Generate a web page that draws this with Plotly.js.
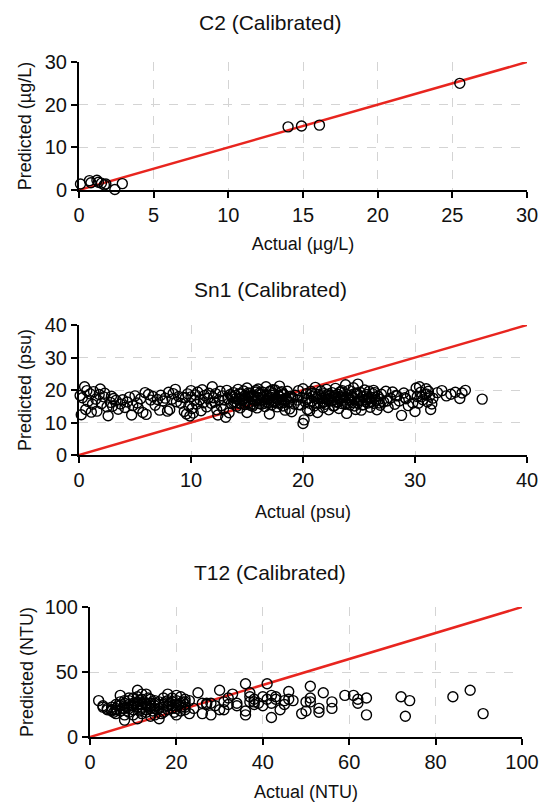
<!DOCTYPE html>
<html>
<head>
<meta charset="utf-8">
<script src="https://cdn.plot.ly/plotly-3.0.1.min.js"></script>
<style>html,body{margin:0;padding:0;background:#fff;}#chart{width:539px;height:806px;}</style>
</head>
<body>
<div id="chart"></div>
<script>
// ---------- data ----------
const c2Titles = ["C2 (Calibrated)", "Actual (µg/L)", "Predicted (µg/L)"];
const sn1Titles = ["Sn1 (Calibrated)", "Actual (psu)", "Predicted (psu)"];
const t12Titles = ["T12 (Calibrated)", "Actual (NTU)", "Predicted (NTU)"];

const c2Actual = [0.1,0.2,0.7,0.8,1.2,1.3,1.5,1.7,1.8,2.4,2.9,14.0,14.9,16.1,25.5];
const c2Predicted = [1.4,-0.1,2.2,1.7,2.3,1.8,1.6,1.2,1.4,0.1,1.5,14.8,15.0,15.2,25.0];
const c2Line = [0, 30];

const sn1Actual = [
 0.1,0.2,0.3,0.5,0.6,0.7,0.8,1.0,1.1,1.2,
 1.3,1.5,1.6,1.8,1.9,2.0,2.2,2.3,2.5,2.6,
 2.8,2.9,3.0,3.1,3.3,3.5,3.7,3.9,4.1,4.3,
 4.5,4.7,4.8,5.0,5.2,5.3,5.5,5.7,5.9,6.0,
 6.2,6.4,6.6,6.8,7.0,7.2,7.3,7.5,7.7,7.9,
 8.0,8.1,8.3,8.4,8.6,8.7,8.9,9.1,9.3,9.4,
 9.5,9.6,9.7,9.8,9.9,10.0,10.0,10.1,10.2,10.3,
 10.4,10.5,10.6,10.8,10.9,11.0,11.1,11.2,11.4,11.5,
 11.6,11.8,11.9,12.0,12.1,12.2,12.3,12.4,12.5,12.6,
 12.7,12.8,12.9,13.0,13.1,13.2,13.3,13.4,13.5,13.6,
 13.7,13.8,13.9,14.0,14.1,14.2,14.3,14.4,14.5,14.6,
 14.7,14.8,14.9,15.0,15.0,15.1,15.2,15.3,15.4,15.5,
 15.6,15.7,15.8,15.9,16.0,16.0,16.1,16.2,16.3,16.4,
 16.5,16.6,16.7,16.8,16.9,17.0,17.0,17.1,17.2,17.3,
 17.4,17.5,17.6,17.7,17.8,17.9,18.0,18.0,18.1,18.2,
 18.3,18.4,18.5,18.6,18.7,18.8,18.9,19.0,19.1,19.2,
 13.8,14.3,14.9,15.4,15.9,16.4,16.9,17.4,17.9,18.4,
 14.0,14.6,15.2,15.7,16.2,16.7,17.2,17.7,18.2,18.7,
 13.6,14.1,14.7,15.1,15.6,16.1,16.6,17.1,17.6,18.1,
 14.4,14.8,15.3,15.8,16.3,16.8,17.3,17.8,18.3,18.9,
 19.3,19.5,19.6,19.8,19.9,20.0,20.0,20.1,20.2,20.3,
 20.4,20.5,20.6,20.7,20.8,20.9,21.0,21.1,21.2,21.3,
 21.4,21.5,21.6,21.7,21.8,21.9,22.0,22.1,22.2,22.3,
 22.4,22.5,22.6,22.7,22.8,22.9,23.0,23.1,23.2,23.3,
 23.4,23.5,23.6,23.7,23.8,23.9,24.0,24.1,24.2,24.3,
 24.4,24.5,24.6,24.7,24.8,24.9,25.0,25.1,25.2,25.3,
 25.4,25.5,25.6,25.7,25.8,25.9,26.0,26.1,26.2,26.3,
 26.4,26.5,26.6,26.7,26.8,26.9,27.0,27.2,27.4,27.6,
 21.6,22.1,22.6,23.1,23.6,24.1,24.6,25.1,25.6,26.1,
 21.9,22.4,22.9,23.4,23.9,24.4,24.9,25.4,25.9,26.4,
 20.3,20.8,21.3,21.8,22.3,22.8,23.3,23.8,24.3,24.8,
 25.3,25.8,26.3,26.8,19.6,20.6,21.1,22.0,23.5,24.6,
 27.8,28.0,28.2,28.4,28.6,28.8,29.0,29.2,29.4,29.6,
 29.8,30.0,30.1,30.2,30.3,30.4,30.5,30.7,30.9,31.0,
 31.1,31.2,31.3,31.4,31.5,31.6,32.0,32.4,32.8,33.2,
 33.6,34.0,34.2,34.5,36.0,28.3,29.1,30.6,27.5,31.0
];
const sn1Predicted = [
 18.3,12.4,17.6,21.0,14.0,19.8,16.5,18.8,13.2,15.6,
 19.5,17.2,13.5,18.6,20.3,15.8,17.9,19.0,14.8,12.1,
 16.2,18.1,15.0,17.4,16.8,14.1,15.7,17.0,14.6,16.3,
 17.8,12.3,15.2,18.2,16.0,14.4,17.3,13.1,19.2,12.5,
 18.6,16.9,18.0,15.3,17.1,13.8,18.4,16.6,17.5,13.5,
 19.3,14.0,17.2,18.9,20.2,16.4,18.0,15.9,17.7,13.4,
 17.6,12.6,18.8,15.1,12.0,17.9,19.8,14.3,12.9,16.8,
 18.5,15.6,19.4,17.0,13.6,20.1,16.1,18.3,14.8,17.4,
 19.0,15.9,21.0,17.6,16.3,18.9,13.9,12.3,17.0,19.6,
 15.2,18.2,14.1,16.9,11.6,19.9,17.3,13.0,18.6,15.8,
 17.9,19.2,16.4,18.3,15.0,20.2,17.1,14.5,18.8,16.7,
 19.7,15.5,17.6,20.6,13.1,18.5,16.2,19.0,17.3,15.0,
 18.1,16.6,19.9,14.5,17.7,20.3,15.8,18.7,16.9,19.3,
 17.2,14.9,21.0,18.4,16.1,12.6,19.5,17.8,15.4,18.9,
 16.6,20.0,17.5,14.8,18.3,21.2,16.0,19.2,17.0,15.1,
 18.6,13.8,17.4,19.6,16.3,14.2,18.1,13.3,17.6,15.7,
 16.0,18.9,16.3,17.9,16.8,17.8,17.4,16.2,17.9,17.1,
 17.4,17.0,18.0,16.6,18.5,16.5,18.4,17.1,18.8,17.9,
 18.2,16.1,17.3,19.1,15.6,19.0,15.9,19.7,16.3,19.5,
 15.8,18.2,15.3,19.4,15.6,17.1,20.1,15.9,16.1,17.5,
 18.4,16.9,19.8,15.4,17.7,9.7,20.4,10.8,16.3,18.9,
 14.0,17.5,13.6,19.6,16.6,18.2,15.1,20.8,17.3,13.1,
 18.6,16.0,19.7,17.4,14.6,18.9,15.6,20.2,17.0,13.9,
 18.3,16.7,19.2,15.1,17.8,20.5,16.4,18.7,14.3,17.2,
 19.5,15.8,18.2,16.9,21.6,12.8,17.6,19.9,15.4,18.5,
 16.2,20.7,17.3,14.0,18.9,21.8,16.6,19.3,13.8,17.9,
 15.5,20.0,17.1,18.6,16.0,19.6,14.7,17.7,18.9,15.9,
 19.2,16.8,13.9,18.1,17.2,15.3,18.7,16.4,19.6,14.6,
 17.9,18.5,16.8,16.2,17.7,16.9,18.9,17.2,16.4,16.5,
 16.5,17.1,18.3,17.6,16.2,17.9,15.9,18.2,17.4,17.8,
 17.2,19.0,15.9,16.2,18.8,15.2,19.4,15.6,17.0,19.1,
 15.4,17.3,19.9,16.0,15.5,15.9,18.8,17.6,19.8,15.1,
 17.5,19.4,15.6,18.2,16.6,12.2,19.1,17.3,15.2,18.5,
 16.0,13.4,20.6,18.0,15.9,21.0,19.3,17.0,18.6,20.4,
 16.4,19.6,18.1,14.0,15.7,17.5,19.2,19.8,18.2,18.7,
 19.3,17.4,19.1,19.9,17.2,18.3,17.6,17.9,16.6,18.8
];
const sn1Line = [0, 40];

const t12Actual = [
 2,3,4,5,5,5.5,6,6,6.5,7,
 7,7.5,8,8,8,8.5,9,9,9.5,10,
 10,10,10.5,11,11,11,11.5,11.5,12,12,
 12,12.5,13,13,13.5,14,14,14.5,15,15,
 15.5,16,16,16.5,17,17,17.5,18,18,18.5,
 19,19,19.5,20,20,20,20.5,21,21,21.5,
 22,22,22,23,24,25,26,27,28,28,
 29,30,30,31,32,33,34,36,36,36,
 37,37,38,38,40,40,41,41,42,42,
 42,43,44,45,46,46,49,50,50,51,
 51,51,53,53,54,56,56,59,61,62,
 62,64,64,72,73,74,84,88,91,
 4,5,6,7,7,8,9,9,10,10,
 11,11,12,12,13,13,14,14,15,15,
 16,16,17,18,18,19,19,20,21,22,
 21,9,11,13,15,6,8,12,14,17,
 3,20,22,23,26,27,31,32,34,37,
 38,39,43,45,47
];
const t12Predicted = [
 28,24,22,20,23,19,21,25,24,32,
 20,22,17,26,13,23,19,28,24,21,
 30,17,26,36,23,14,28,20,25,33,
 22,27,24,19,30,22,26,20,24,28,
 21,14,25,18,23,30,27,33,21,26,
 24,30,19,22,28,17,25,31,23,27,
 29,21,25,18,22,34,18,25,17,26,
 24,36,21,27,25,33,24,41,20,17,
 31,27,25,29,31,24,41,29,15,26,
 32,29,21,28,35,29,18,20,27,39,
 30,27,22,19,34,27,22,32,32,29,
 26,30,17,31,16,28,31,36,18,
 21,21,22,24,27,22,25,22,24,26,
 25,27,23,29,26,21,24,29,22,26,
 27,22,25,24,28,27,22,25,26,27,
 20,30,31,33,17,18,28,18,16,19,
 23,32,23,28,26,26,21,30,26,34,
 27,26,31,25,28
];
const t12Line = [0, 100];

// ---------- layout helpers ----------
const W = 539, H = 806;
const FONT = '"Liberation Sans", Arial, sans-serif';
const px = (a, b) => [a / W, b / W];
const py = (top, bottom) => [1 - bottom / H, 1 - top / H];

function axisStyle(extra) {
  return Object.assign({
    showline: true, linecolor: '#000', linewidth: 2,
    ticks: 'outside', ticklen: 6, tickwidth: 2, tickcolor: '#000',
    showgrid: true, gridcolor: '#d4d4d4', griddash: 'dash', gridwidth: 1,
    zeroline: false, mirror: false,
    tickfont: {family: FONT, size: 20, color: '#111'},
    fixedrange: true
  }, extra);
}
function titleObj(text, standoff) {
  return {text: text, font: {family: FONT, size: 18, color: '#111'}, standoff: standoff};
}

function scatter(x, y, xa, ya) {
  return {x: x, y: y, xaxis: xa, yaxis: ya, type: 'scatter', mode: 'markers',
    cliponaxis: false,
    marker: {symbol: 'circle-open', size: 10, color: '#000', line: {width: 1.4, color: '#000'}},
    hoverinfo: 'skip', showlegend: false};
}
function oneToOne(v, xa, ya) {
  return {x: v, y: v, xaxis: xa, yaxis: ya, type: 'scatter', mode: 'lines',
    line: {color: '#e8251f', width: 2.5}, hoverinfo: 'skip', showlegend: false};
}

const data = [
  oneToOne(c2Line, 'x', 'y'),
  scatter(c2Actual, c2Predicted, 'x', 'y'),
  oneToOne(sn1Line, 'x2', 'y2'),
  scatter(sn1Actual, sn1Predicted, 'x2', 'y2'),
  oneToOne(t12Line, 'x3', 'y3'),
  scatter(t12Actual, t12Predicted, 'x3', 'y3')
];

const layout = {
  width: W, height: H,
  margin: {l: 0, r: 0, t: 0, b: 0},
  paper_bgcolor: '#fff', plot_bgcolor: '#fff',
  font: {family: FONT, color: '#111'},
  xaxis: axisStyle({domain: px(79, 527), range: [0, 30], dtick: 5, anchor: 'y', title: titleObj(c2Titles[1], 12)}),
  yaxis: axisStyle({domain: py(62, 190), range: [0, 30], dtick: 10, anchor: 'x', title: titleObj(c2Titles[2], 8)}),
  xaxis2: axisStyle({domain: px(79, 527), range: [0, 40], dtick: 10, anchor: 'y2', title: titleObj(sn1Titles[1], 15)}),
  yaxis2: axisStyle({domain: py(325, 455), range: [0, 40], dtick: 10, anchor: 'x2', title: titleObj(sn1Titles[2], 8)}),
  xaxis3: axisStyle({domain: px(90, 522), range: [0, 100], dtick: 20, anchor: 'y3', title: titleObj(t12Titles[1], 13)}),
  yaxis3: axisStyle({domain: py(607, 737), range: [0, 100], dtick: 50, anchor: 'x3', title: titleObj(t12Titles[2], 6)}),
  annotations: [
    {text: c2Titles[0], x: 270 / W, y: 1 - 22 / H},
    {text: sn1Titles[0], x: 270 / W, y: 1 - 290 / H},
    {text: t12Titles[0], x: 270 / W, y: 1 - 572 / H}
  ].map(a => Object.assign(a, {xref: 'paper', yref: 'paper', showarrow: false,
    xanchor: 'center', yanchor: 'middle', font: {family: FONT, size: 21, color: '#111'}}))
};

Plotly.newPlot('chart', data, layout, {displayModeBar: false, staticPlot: true});
</script>
</body>
</html>
